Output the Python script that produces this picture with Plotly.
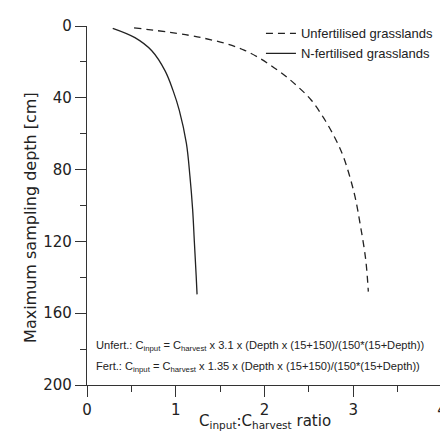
import plotly.graph_objects as go

# Values
unfert_depth = [1, 6.5, 13.4, 25, 34, 41.5, 51.5, 62, 73, 93, 111, 130, 148]
unfert_ratio = [0.53, 1.29, 1.77, 2.16, 2.38, 2.53, 2.67, 2.79, 2.89, 3.01, 3.08, 3.14, 3.17]

fert_depth = [1.3, 6.5, 13.8, 25, 36, 47, 65.4, 83.8, 102, 120.6, 139, 149.5]
fert_ratio = [0.29, 0.54, 0.73, 0.88, 0.97, 1.04, 1.12, 1.16, 1.19, 1.21, 1.23, 1.24]

x_ticks = [0, 1, 2, 3, 4]
y_ticks = [0, 40, 80, 120, 160, 200]

FONT = "DejaVu Sans"
NARROW = "Liberation Sans"
INK = "#222222"

fig = go.Figure()
fig.add_trace(go.Scatter(
    x=unfert_ratio, y=unfert_depth, mode="lines", line_shape="spline",
    name="Unfertilised grasslands",
    line=dict(color=INK, width=1.3, dash="7px,5px"),
))
fig.add_trace(go.Scatter(
    x=fert_ratio, y=fert_depth, mode="lines", line_shape="spline",
    name="N-fertilised grasslands",
    line=dict(color=INK, width=1.3),
))

fig.add_annotation(
    xref="paper", yref="y", x=0.022, y=178, xanchor="left", yanchor="middle",
    showarrow=False, borderpad=0,
    text="Unfert.: C<sub>input</sub> = C<sub>harvest</sub> x 3.1 x (Depth x (15+150)/(150*(15+Depth))",
    font=dict(family=NARROW, size=11.1, color=INK),
)
fig.add_annotation(
    xref="paper", yref="y", x=0.022, y=190, xanchor="left", yanchor="middle",
    showarrow=False, borderpad=0,
    text="Fert.: C<sub>input</sub> = C<sub>harvest</sub> x 1.35 x (Depth x (15+150)/(150*(15+Depth))",
    font=dict(family=NARROW, size=11.1, color=INK),
)
# axis titles (placed as in the reference)
fig.add_annotation(
    xref="paper", yref="paper", x=-0.159, y=0.467, xanchor="center", yanchor="middle",
    showarrow=False, textangle=-90,
    text="Maximum sampling depth [cm]",
    font=dict(family=FONT, size=16, color=INK),
)
fig.add_annotation(
    xref="paper", yref="paper", x=0.5, y=-0.103, xanchor="center", yanchor="middle",
    showarrow=False,
    text="C<sub>input</sub>:C<sub>harvest</sub> ratio",
    font=dict(family=FONT, size=15, color=INK),
)

fig.update_layout(
    width=448, height=435,
    margin=dict(l=79, r=9, t=15, b=58),
    paper_bgcolor="white", plot_bgcolor="white",
    font=dict(family=FONT, size=15, color=INK),
    showlegend=True,
    legend=dict(
        x=0.49, y=1.021, xanchor="left", yanchor="top",
        bgcolor="rgba(0,0,0,0)", borderwidth=0,
        font=dict(family=NARROW, size=13, color=INK),
        itemwidth=30, tracegroupgap=0,
    ),
    xaxis=dict(
        range=[0, 4], tickvals=x_ticks, ticktext=[str(v) for v in x_ticks],
        showgrid=False, zeroline=False, showline=True, linecolor="#333333", linewidth=1.2,
        ticks="outside", ticklen=11, tickwidth=1.2, tickcolor="#333333",
        minor=dict(dtick=0.5, ticks="outside", ticklen=6, tickwidth=1.2, tickcolor="#333333", showgrid=False),
        tickfont=dict(size=15),
    ),
    yaxis=dict(
        range=[200, 0], tickvals=y_ticks, ticktext=[str(v) for v in y_ticks],
        showgrid=False, zeroline=False, showline=True, linecolor="#333333", linewidth=1.2,
        ticks="outside", ticklen=11, tickwidth=1.2, tickcolor="#333333",
        minor=dict(dtick=20, ticks="outside", ticklen=6, tickwidth=1.2, tickcolor="#333333", showgrid=False),
        tickfont=dict(size=15),
    ),
)

fig.write_html("out.html")
